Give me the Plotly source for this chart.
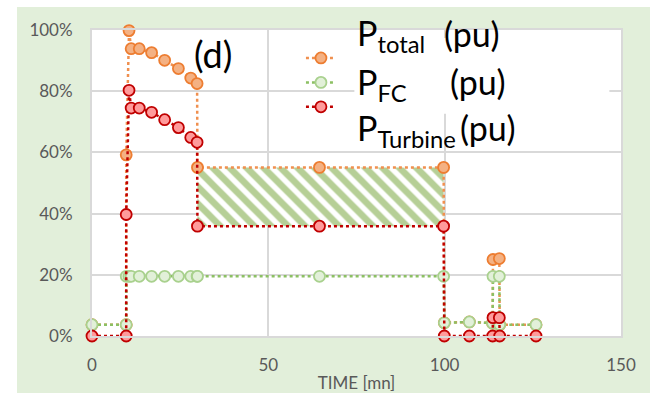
import plotly.graph_objects as go

# time axis [mn] and power in % (pu)
time_mn = [0, 9.7, 9.7, 10.5, 11.1, 13.4, 16.9, 20.6, 24.5, 28.0, 29.8, 29.9,
           64.5, 99.7, 99.9, 107.0, 113.6, 113.7, 115.5, 115.6, 125.9]
p_total = [3.7, 3.7, 59.2, 99.8, 93.9, 93.9, 92.6, 90.1, 87.4, 84.3, 82.5, 55.1,
           55.1, 55.1, 4.3, 4.6, 4.2, 25.0, 25.3, 3.7, 3.7]
p_fc = [3.7, 3.7, 19.5, 19.5, 19.5, 19.5, 19.5, 19.5, 19.5, 19.5, 19.5, 19.5,
        19.5, 19.5, 4.3, 4.6, 4.2, 19.5, 19.5, 3.7, 3.7]
p_turbine = [0, 0, 39.7, 80.3, 74.5, 74.5, 73.1, 70.7, 68.1, 64.9, 63.3, 35.9,
             35.9, 35.9, 0, 0, 0, 6.0, 6.0, 0, 0]

label_symbols = ["P<sub>total</sub>", "P<sub>FC</sub>", "P<sub>Turbine</sub>"]
label_unit = "(pu)"
x_ticks = [0, 50, 100, 150]
y_ticks = [0, 20, 40, 60, 80, 100]

# hatched block between turbine and total power during the plateau
i0, i1 = 11, 13
hatch_x = [time_mn[i0], time_mn[i1], time_mn[i1], time_mn[i0], time_mn[i0]]
hatch_y = [p_turbine[i0], p_turbine[i1], p_total[i1], p_total[i0], p_turbine[i0]]

FONT = "Lato"
GREY = "#595959"

fig = go.Figure()

fig.add_trace(go.Scatter(x=hatch_x, y=hatch_y, mode="none", fill="toself",
                         fillcolor="white", showlegend=False, hoverinfo="skip",
                         fillpattern=dict(shape="\\", fgcolor="#6E9F2E", bgcolor="white",
                                          size=12, solidity=0.55)))

styles = [
    dict(line="#F0904F", fill="#F4B183", edge="#ED7D31"),
    dict(line="#8CC063", fill="#E2F0D9", edge="#A9D18E"),
    dict(line="#C00000", fill="#FF9B9B", edge="#C00000"),
]
# legend shows only the symbols, the labels are drawn as big text boxes beside it
for vals, st in zip([p_total, p_fc, p_turbine], styles):
    fig.add_trace(go.Scatter(x=time_mn, y=vals, name="", mode="lines+markers",
                             cliponaxis=False,
                             line=dict(color=st["line"], width=2.5, dash="dot"),
                             marker=dict(size=11, color=st["fill"],
                                         line=dict(color=st["edge"], width=1.8))))

# white box behind the legend labels
fig.add_shape(type="rect", xref="x", yref="y", x0=74.4, x1=146.7, y0=72.6, y1=97.4,
              fillcolor="white", line_width=0, layer="between")

# white strips round the green chart area
fig.add_shape(type="rect", xref="paper", yref="paper", x0=-0.5, x1=-0.1418, y0=-1, y1=2,
              fillcolor="white", line_width=0, layer="below")
fig.add_shape(type="rect", xref="paper", yref="paper", x0=-1, x1=2, y0=1.0752, y1=2,
              fillcolor="white", line_width=0, layer="below")

big = dict(family=FONT, size=34, color="black")
fig.add_annotation(x=34.4, y=92.2, text="(d)", showarrow=False, font=dict(family=FONT, size=36, color="black"),
                   xanchor="center", yanchor="middle")
label_pos = [(98.4, 99.2, 98.9), (82.4, 100.9, 83.3), (67.3, 103.8, 68.3)]
for sym, (ys, xu, yu) in zip(label_symbols, label_pos):
    fig.add_annotation(x=74.6, y=ys, text=sym, showarrow=False, font=big,
                       xanchor="left", yanchor="middle")
    fig.add_annotation(x=xu, y=yu, text=label_unit, showarrow=False, font=big,
                       xanchor="left", yanchor="middle")

axis_common = dict(showgrid=True, gridcolor="#D9D9D9", gridwidth=1.5, showline=True,
                   linecolor="#D9D9D9", linewidth=2, mirror=True, zeroline=False,
                   tickfont=dict(family=FONT, size=17, color=GREY), ticks="",
                   automargin=False)

fig.update_xaxes(range=[0, 150], tickvals=x_ticks, ticklabelstandoff=13, **axis_common,
                 title=dict(text="TIME [mn]", font=dict(family=FONT, size=17, color=GREY), standoff=10))
fig.update_yaxes(range=[0, 100], tickvals=y_ticks, ticktext=[f"{v}%" for v in y_ticks],
                 ticklabelstandoff=14, **axis_common)

fig.update_layout(
    width=650, height=393,
    margin=dict(l=92, r=29, t=30, b=57),
    paper_bgcolor="#E2EFDA", plot_bgcolor="white",
    font=dict(family=FONT),
    showlegend=True,
    legend=dict(x=0.395, y=0.965, xanchor="left", yanchor="top", bgcolor="rgba(0,0,0,0)",
                font=dict(family=FONT, size=16.5), tracegroupgap=0),
)

fig.write_html("out.html", config={"displayModeBar": False},
               post_script="document.body.style.margin='0';")
